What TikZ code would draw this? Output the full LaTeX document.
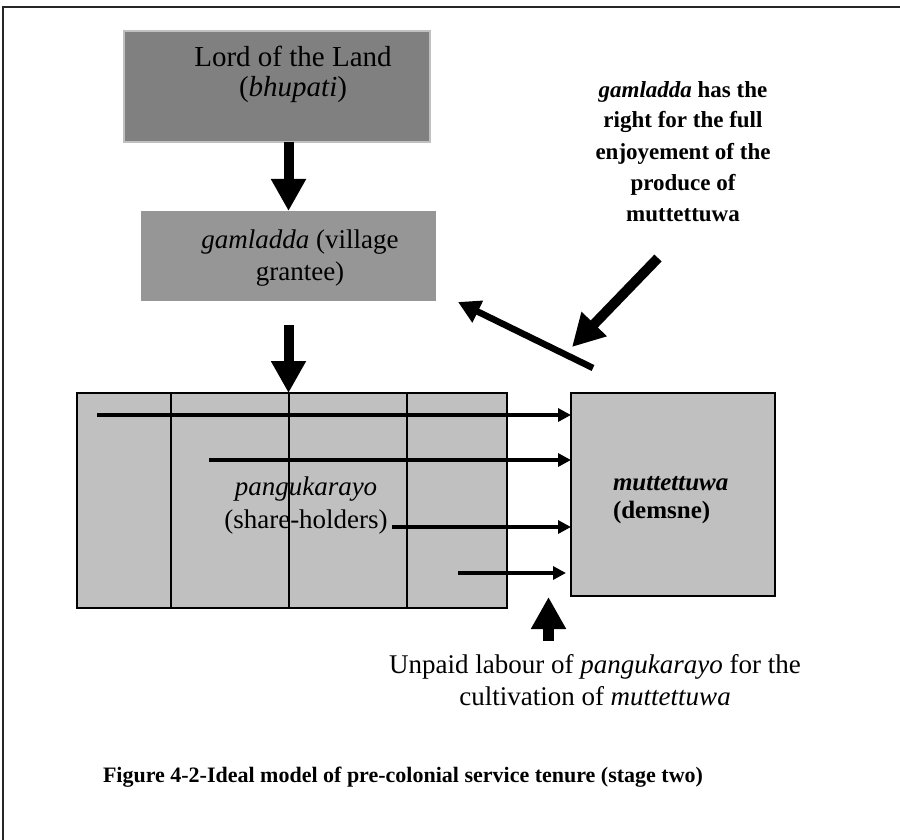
\documentclass[tikz,border=0pt]{standalone}
\usepackage{fontspec}
\setmainfont{Liberation Serif}
\usetikzlibrary{arrows.meta}
\definecolor{lordgray}{HTML}{808080}
\definecolor{lordedge}{HTML}{C0C0C0}
\definecolor{gamgray}{HTML}{969696}
\definecolor{panggray}{HTML}{C0C0C0}
\begin{document}
\begin{tikzpicture}[x=1pt,y=-1pt,
  every node/.style={inner sep=0pt,outer sep=0pt},
  box/.style={rectangle,inner sep=0pt},
  frameline/.style={line width=1.8pt,black!85},
  divider/.style={line width=1.5pt,black},
  heavyarrow/.style={line width=10pt,-{Triangle[length=32pt,width=33pt]}},
  midarrow/.style={line width=6.5pt,-{Triangle[length=22pt,width=23pt]}},
  lightarrow/.style={line width=3.3pt,-{Triangle[length=13pt,width=13pt]}},
  bodytext/.style={font=\fontsize{27}{32}\selectfont,align=center,anchor=base},
]
\useasboundingbox (0,0) rectangle (900,840);
\draw[frameline] (3,840) -- (3,7) -- (900,7);

% boxes
\node[box,fill=lordgray,draw=lordedge,line width=2pt,minimum width=306pt,minimum height=111pt] (lord) at (276.5,87) {};
\node[box,fill=gamgray,minimum width=295pt,minimum height=90pt] (gam) at (288.5,256) {};
\node[box,fill=panggray,draw=black,line width=1.5pt,minimum width=430pt,minimum height=215pt] (pangu) at (292,500.5) {};
\node[box,fill=panggray,draw=black,line width=2pt,minimum width=204pt,minimum height=203pt] (mutt) at (673,494.5) {};

% dividers
\foreach \dx in {94,212,330}
  \draw[divider] ([xshift=\dx pt]pangu.north west) -- ([xshift=\dx pt]pangu.south west);

% texts (anchor=base sits on the last line)
\node[bodytext,font=\fontsize{29}{30}\selectfont] (lordtxt) at (293,97) {Lord of the Land\\(\textit{bhupati})};
\node[bodytext] (gamtxt) at (300,280) {\textit{gamladda} (village\\grantee)};
\node[bodytext,font=\fontsize{27}{33}\selectfont] (pangutxt) at (306,528) {\textit{pangukarayo}\\(share-holders)};
\node[anchor=base west,align=left,font=\bfseries\fontsize{25}{28}\selectfont] (mutttxt) at (613,518) {\textit{muttettuwa}\\(demsne)};
\node[anchor=base,align=center,font=\bfseries\fontsize{23}{31}\selectfont] (note) at (683,221) {\textit{gamladda} has the\\right for the full\\enjoyement of the\\produce of\\muttettuwa};
\node[bodytext] (labour) at (595,705) {Unpaid labour of \textit{pangukarayo} for the\\cultivation of \textit{muttettuwa}};
\node[anchor=base west,font=\bfseries\fontsize{22}{26}\selectfont] (caption) at (103,782) {Figure 4-2-Ideal model of pre-colonial service tenure (stage two)};

% vertical heavy arrows
\draw[heavyarrow] (gam.north |- lord.south) -- (gam.north);
\coordinate (a2) at (288.5,325);
\draw[heavyarrow] (a2) -- (a2 |- pangu.north);

% horizontal arrows into muttettuwa
\coordinate (h1) at (97,415);
\coordinate (h2) at (209,460);
\coordinate (h3) at (392,527);
\coordinate (h4) at (458,573);
\draw[lightarrow] (h1) -- (h1 -| mutt.west);
\draw[lightarrow] (h2) -- (h2 -| mutt.west);
\draw[lightarrow] (h3) -- (h3 -| mutt.west);
\draw[lightarrow] (h4) -- ([xshift=-5pt]h4 -| mutt.west);

% diagonal arrows
\coordinate (d1s) at (593,368);
\coordinate (d1e) at (458,302);
\draw[midarrow] (d1s) -- (d1e);
\coordinate (d2s) at (658,258);
\coordinate (d2e) at (572,347);
\draw[heavyarrow] (d2s) -- (d2e);

% upward arrow
\coordinate (u1) at (548.5,641);
\coordinate (u2) at (548.5,597);
\draw[heavyarrow,line width=11pt] (u1) -- (u2);
\end{tikzpicture}
\end{document}
